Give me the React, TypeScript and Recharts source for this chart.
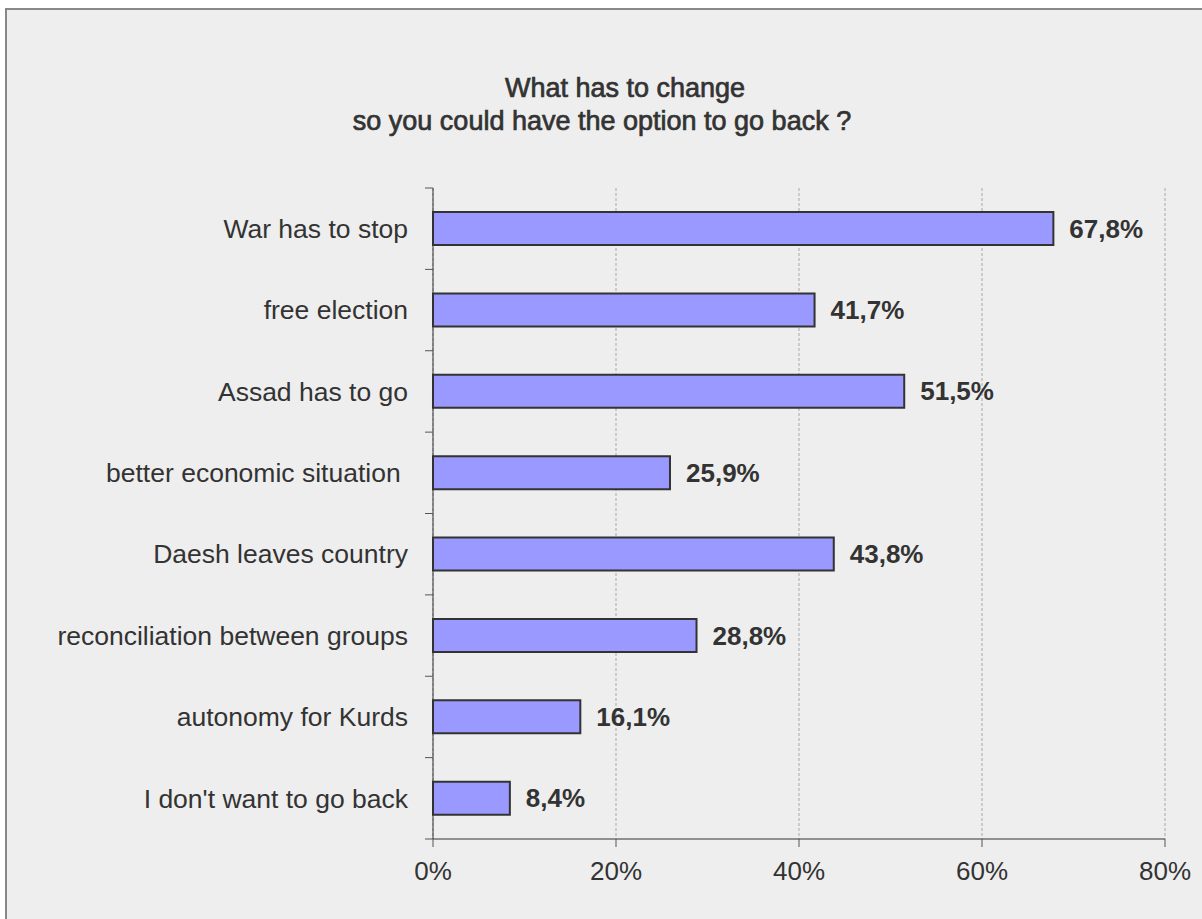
import { BarChart, Bar, XAxis, YAxis, CartesianGrid, LabelList } from 'recharts'

const categories = [
  'War has to stop',
  'free election',
  'Assad has to go',
  'better economic situation ',
  'Daesh leaves country',
  'reconciliation between groups',
  'autonomy for Kurds',
  "I don't want to go back",
]
const shares = [67.8, 41.7, 51.5, 25.9, 43.8, 28.8, 16.1, 8.4]
const xTicks = [0, 20, 40, 60, 80]

const data = categories.map((name, i) => ({ name, value: shares[i] }))

const FONT = '"Liberation Sans", Arial, sans-serif'
const TEXT = '#333333'
const W = 1195
const H = 909
const MARGIN = { top: 178, right: 37, bottom: 40, left: 0 }
const X_AXIS_H = 40
const TICK_SIZE = 8
const TICK_MARGIN = 17
const BAND = (H - MARGIN.top - MARGIN.bottom - X_AXIS_H) / categories.length

const pct = (v: number) => v.toFixed(1).replace('.', ',') + '%'

function CategoryTick(props: any) {
  const { x, y, payload, index } = props
  const axisX = x + TICK_SIZE + TICK_MARGIN
  return (
    <g>
      <line x1={axisX - TICK_SIZE} x2={axisX} y1={y - BAND / 2} y2={y - BAND / 2} stroke="#555" />
      {index === categories.length - 1 && (
        <line x1={axisX - TICK_SIZE} x2={axisX} y1={y + BAND / 2} y2={y + BAND / 2} stroke="#555" />
      )}
      <text x={x} y={y} dy="0.35em" textAnchor="end" fill={TEXT} fontSize={26.5} fontFamily={FONT} style={{ whiteSpace: 'pre' }}>
        {payload.value}
      </text>
    </g>
  )
}

const titleLine = { position: 'absolute' as const, left: 0, textAlign: 'center' as const, fontSize: 27, lineHeight: '34px', WebkitTextStroke: '0.7px #333' }

export default function App() {
  return (
    <div
      style={{
        position: 'absolute',
        left: 5,
        top: 8,
        width: W,
        height: H,
        background: '#eeeeee',
        borderTop: '2px solid #888',
        borderLeft: '2px solid #888',
        fontFamily: FONT,
        color: TEXT,
      }}
    >
      <div style={{ ...titleLine, width: 2 * (625 - 7), top: 61 }}>What has to change</div>
      <div style={{ ...titleLine, width: 2 * (602 - 7), top: 94 }}>so you could have the option to go back ?</div>
      <BarChart width={W} height={H} data={data} layout="vertical" margin={MARGIN}>
        <CartesianGrid horizontal={false} stroke="#a8a8a8" strokeDasharray="3 2" />
        <XAxis
          type="number"
          domain={[0, 80]}
          ticks={xTicks}
          tickFormatter={(v) => `${v}%`}
          height={X_AXIS_H}
          tickSize={TICK_SIZE}
          tickMargin={15}
          axisLine={{ stroke: '#333' }}
          tickLine={{ stroke: '#555' }}
          tick={{ fill: TEXT, fontSize: 26, fontFamily: FONT }}
        />
        <YAxis
          type="category"
          dataKey="name"
          width={426}
          tickSize={TICK_SIZE}
          tickMargin={TICK_MARGIN}
          tickLine={false}
          axisLine={{ stroke: '#333' }}
          tick={<CategoryTick />}
          interval={0}
        />
        <Bar dataKey="value" fill="#9999ff" stroke="#333" strokeWidth={2} barSize={33} isAnimationActive={false}>
          <LabelList
            dataKey="value"
            position="right"
            offset={16}
            formatter={(v: any) => pct(Number(v))}
            fill={TEXT}
            fontSize={26}
            fontWeight="bold"
            fontFamily={FONT}
          />
        </Bar>
      </BarChart>
    </div>
  )
}
